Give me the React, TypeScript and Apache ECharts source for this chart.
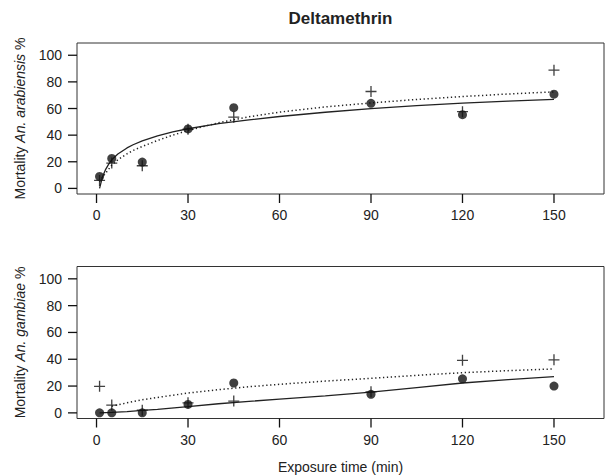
import React, { useEffect, useRef } from "react";
import * as echarts from "echarts";

const timePoints = [1, 5, 15, 30, 45, 90, 120, 150];
const arabiensisCircle = [9, 22.5, 19.8, 44.7, 60.6, 63.9, 55.4, 70.8];
const arabiensisPlus = [6, 19, 17, 44.5, 53.5, 72.8, 57.6, 88.8];
const gambiaeCircle = [0, 0, 0, 6.3, 22.3, 13.8, 25.4, 20];
const gambiaePlus = [19.8, 5.8, 2, 7.5, 8.8, 15.7, 39.2, 39.6];

const curveTimeA = [1, 2, 3, 4, 5, 7, 10, 12, 15, 20, 25, 30, 40, 50, 60, 75, 90, 105, 120, 135, 150];
const arabiensisFitSolid = [0, 9, 14.3, 18.2, 21.5, 25.8, 30.4, 32.8, 35.7, 39.5, 42.4, 44.8, 48.6, 51.5, 54, 57.2, 59.9, 62.1, 64.1, 65.6, 66.9];
const arabiensisFitDotted = [5, 8.5, 11.5, 14.5, 17.5, 21.5, 26, 28.5, 31.5, 36, 40, 43.5, 49.3, 53.8, 57.3, 61.2, 64.2, 66.8, 69, 70.9, 72.5];

const curveTimeG = [1, 5, 10, 15, 20, 30, 40, 50, 60, 75, 90, 105, 120, 135, 150];
const gambiaeFitSolid = [0, 0.4, 1, 1.8, 2.6, 4.6, 6.8, 8.6, 10.2, 12.7, 15.5, 18.9, 22.3, 24.8, 27];
const gambiaeFitDotted = [null, 5, 7.5, 9.8, 11.5, 14.8, 17.3, 19.5, 21.3, 23.7, 25.8, 28, 30, 31.5, 32.8];

const xTicks = [0, 30, 60, 90, 120, 150];
const yTicks = [0, 20, 40, 60, 80, 100];

// axis ranges: data window (R-style 4% padding) and tick range
const xWindow = [-6.4, 166.4];
const yWindow = [-4.2, 109.2];
const xTickRange = [0, 150, 30];
const yTickRange = [0, 100, 20];

const FONT = "'Liberation Sans', Arial, Helvetica, sans-serif";
const INK = "#222";
const PLUS = "path://M4.4,0H5.6V4.4H10V5.6H5.6V10H4.4V5.6H0V4.4H4.4Z";
const TICK_LEN = 9;
const TICK_W = 1.3;

const pairs = (xs: number[], ys: (number | null)[]) =>
  xs.map((x, i) => [x, ys[i]]).filter((p) => p[1] !== null);

export default function App() {
  const ref = useRef<HTMLDivElement>(null);
  useEffect(() => {
    if (!ref.current) return;
    const chart = echarts.init(ref.current, null, { renderer: "svg" });

    const boxLeft = 77;
    const boxWidth = 527;
    const boxes = [
      { top: 43, height: 151 },
      { top: 266.5, height: 152 },
    ];
    const xSpan = xWindow[1] - xWindow[0];
    const ySpan = yWindow[1] - yWindow[0];
    const tickLeft = boxLeft + ((xTickRange[0] - xWindow[0]) / xSpan) * boxWidth;
    const tickWidth = ((xTickRange[1] - xTickRange[0]) / xSpan) * boxWidth;

    const grids: any[] = [];
    boxes.forEach((b) => {
      grids.push({
        left: boxLeft,
        top: b.top,
        width: boxWidth,
        height: b.height,
        show: true,
        borderColor: "#333",
        borderWidth: 1,
        backgroundColor: "transparent",
      });
    });
    const tickGeo = boxes.map((b) => {
      const top = b.top + ((yWindow[1] - yTickRange[1]) / ySpan) * b.height;
      const height = ((yTickRange[1] - yTickRange[0]) / ySpan) * b.height;
      return { top, height, bottomOffset: b.top + b.height - (top + height) };
    });
    tickGeo.forEach((t) => {
      grids.push({ left: tickLeft, top: t.top, width: tickWidth, height: t.height, show: false });
    });

    const labelStyle = { fontSize: 14, color: INK, fontFamily: FONT };
    const xAxes: any[] = [];
    const yAxes: any[] = [];
    // data axes (indices 0,1)
    [0, 1].forEach((i) => {
      xAxes.push({
        type: "value",
        gridIndex: i,
        min: xWindow[0],
        max: xWindow[1],
        splitLine: { show: false },
        axisLine: { show: false, onZero: false },
        axisTick: { show: false },
        axisLabel: { show: false },
        name: i === 1 ? "Exposure time (min)" : "",
        nameLocation: "middle",
        nameGap: 41,
        nameMoveOverlap: false,
        nameTextStyle: labelStyle,
      });
      yAxes.push({
        type: "value",
        gridIndex: i,
        min: yWindow[0],
        max: yWindow[1],
        splitLine: { show: false },
        axisLine: { show: false, onZero: false },
        axisTick: { show: false },
        axisLabel: { show: false },
        name: "Mortality {i|" + (i === 0 ? "An. arabiensis" : "An. gambiae") + "} %",
        nameLocation: "middle",
        nameRotate: 90,
        nameGap: 50,
        nameMoveOverlap: false,
        nameTextStyle: {
          ...labelStyle,
          rich: { i: { ...labelStyle, fontStyle: "italic" } },
        },
      });
    });
    // label axes (indices 2,3)
    [0, 1].forEach((i) => {
      xAxes.push({
        type: "value",
        gridIndex: 2 + i,
        min: xTickRange[0],
        max: xTickRange[1],
        interval: xTickRange[2],
        offset: tickGeo[i].bottomOffset,
        splitLine: { show: false },
        axisLine: { show: false, onZero: false },
        axisTick: { show: false },
        axisLabel: { show: true, margin: 14, ...labelStyle },
      });
      yAxes.push({
        type: "value",
        gridIndex: 2 + i,
        min: yTickRange[0],
        max: yTickRange[1],
        interval: yTickRange[2],
        offset: tickLeft - boxLeft,
        splitLine: { show: false },
        axisLine: { show: false, onZero: false },
        axisTick: { show: false },
        axisLabel: { show: true, margin: 15, ...labelStyle },
      });
    });

    const lineSeries = (idx: number, data: any[], dotted: boolean) => ({
      type: "line",
      xAxisIndex: idx,
      yAxisIndex: idx,
      data,
      smooth: false,
      showSymbol: false,
      symbol: "none",
      lineStyle: {
        color: INK,
        width: dotted ? 1.5 : 1.3,
        type: dotted ? [1.3, 2.6] : "solid",
      },
      z: 2,
    });
    const scatterSeries = (idx: number, data: any[], plus: boolean) => ({
      type: "scatter",
      xAxisIndex: idx,
      yAxisIndex: idx,
      data,
      symbol: plus ? PLUS : "circle",
      symbolSize: plus ? 11 : 9,
      itemStyle: { color: "#111" },
      z: plus ? 4 : 3,
    });
    const titleEl = {
      type: "text",
      id: "title",
      x: boxLeft + boxWidth / 2,
      y: 18,
      style: {
        text: "Deltamethrin",
        font: "bold 17px " + FONT,
        fill: INK,
        textAlign: "center",
        textVerticalAlign: "middle",
      },
    };
    chart.setOption({
      animation: false,
      backgroundColor: "#fff",
      textStyle: { fontFamily: FONT },
      grid: grids,
      xAxis: xAxes,
      yAxis: yAxes,
      graphic: [titleEl],
      series: [
        lineSeries(0, pairs(curveTimeA, arabiensisFitSolid), false),
        lineSeries(0, pairs(curveTimeA, arabiensisFitDotted), true),
        scatterSeries(0, pairs(timePoints, arabiensisCircle), false),
        scatterSeries(0, pairs(timePoints, arabiensisPlus), true),
        lineSeries(1, pairs(curveTimeG, gambiaeFitSolid), false),
        lineSeries(1, pairs(curveTimeG, gambiaeFitDotted), true),
        scatterSeries(1, pairs(timePoints, gambiaeCircle), false),
        scatterSeries(1, pairs(timePoints, gambiaePlus), true),
      ],
    });

    // tick marks as thin filled rects, positioned through the library's own scales
    try {
      const els: any[] = [titleEl];
      [0, 1].forEach((i) => {
        const finder = { xAxisIndex: i, yAxisIndex: i };
        xTicks.forEach((v, k) => {
          const p = chart.convertToPixel(finder as any, [v, yWindow[0]]) as any;
          if (!p || !isFinite(p[0])) return;
          els.push({
            type: "rect",
            id: "xt" + i + "_" + k,
            silent: true,
            z: 10,
            shape: { x: p[0] - TICK_W / 2, y: p[1], width: TICK_W, height: TICK_LEN },
            style: { fill: "#111" },
          });
        });
        yTicks.forEach((v, k) => {
          const p = chart.convertToPixel(finder as any, [xWindow[0], v]) as any;
          if (!p || !isFinite(p[1])) return;
          els.push({
            type: "rect",
            id: "yt" + i + "_" + k,
            silent: true,
            z: 10,
            shape: { x: p[0] - TICK_LEN, y: p[1] - TICK_W / 2, width: TICK_LEN, height: TICK_W },
            style: { fill: "#111" },
          });
        });
      });
      chart.setOption({ graphic: els });
    } catch (e) {
      // keep chart without ticks if conversion fails
    }
    return () => chart.dispose();
  }, []);
  return (
    <div
      ref={ref}
      style={{ position: "fixed", left: 0, top: 0, width: 606, height: 476, background: "#fff" }}
    />
  );
}
